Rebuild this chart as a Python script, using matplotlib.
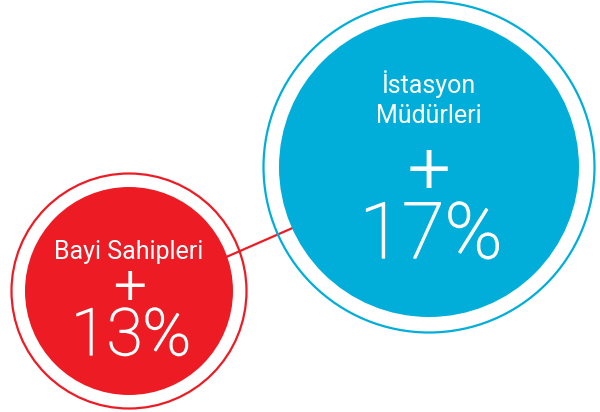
#!/usr/bin/env python3
# Two bubbles comparing growth for dealers and station managers.

import matplotlib.patheffects as pe
import matplotlib.pyplot as plt
from matplotlib.patches import Circle

plt.rcParams.update({
    "font.family": ["Roboto", "DejaVu Sans"],
})

# data
labels = ["Bayi Sahipleri", "İstasyon\nMüdürleri"]
values = [13, 17]
colors = ["#ED1C24", "#00AED9"]

# layout (pixels, y down)
centers = [(129, 291), (429, 167)]
fill_r = [104, 150]
ring_r = [117.5, 165.5]
label_base = [259, 123]
value_base = [355, 258]
value_size = [47, 56]
plus_base = [300, 188]
plus_size = [33, 43]

fig = plt.figure(figsize=(6.0, 4.12), dpi=100)
ax = fig.add_axes([0, 0, 1, 1])
ax.set_xlim(0, 600)
ax.set_ylim(412, 0)
ax.set_aspect("equal")
ax.axis("off")

# connector between the two bubbles, hidden under the fills
ax.plot([200, 320], [268.5, 216], color=colors[0], linewidth=1.6,
        zorder=1, solid_capstyle="butt")

for i in range(2):
    cx, cy = centers[i]
    ax.add_patch(Circle((cx, cy), ring_r[i], facecolor="none",
                        edgecolor=colors[i], linewidth=1.6, zorder=2))
    ax.add_patch(Circle((cx, cy), fill_r[i], facecolor=colors[i],
                        edgecolor="none", zorder=3))
    ax.text(cx, label_base[i], labels[i], color="white", fontsize=18,
            ha="center", va="baseline", linespacing=1.3, zorder=4)
    ax.text(cx, plus_base[i], "+", color="white", fontsize=plus_size[i],
            family="DejaVu Sans", ha="center", va="baseline", zorder=4)
    ax.text(cx + 2, value_base[i], f"{values[i]}%", color="white",
            fontsize=value_size[i], fontweight="light", ha="center",
            va="baseline", zorder=4,
            path_effects=[pe.withStroke(linewidth=1.0, foreground="white")])

fig.savefig("out.png", dpi=100, facecolor="white")
